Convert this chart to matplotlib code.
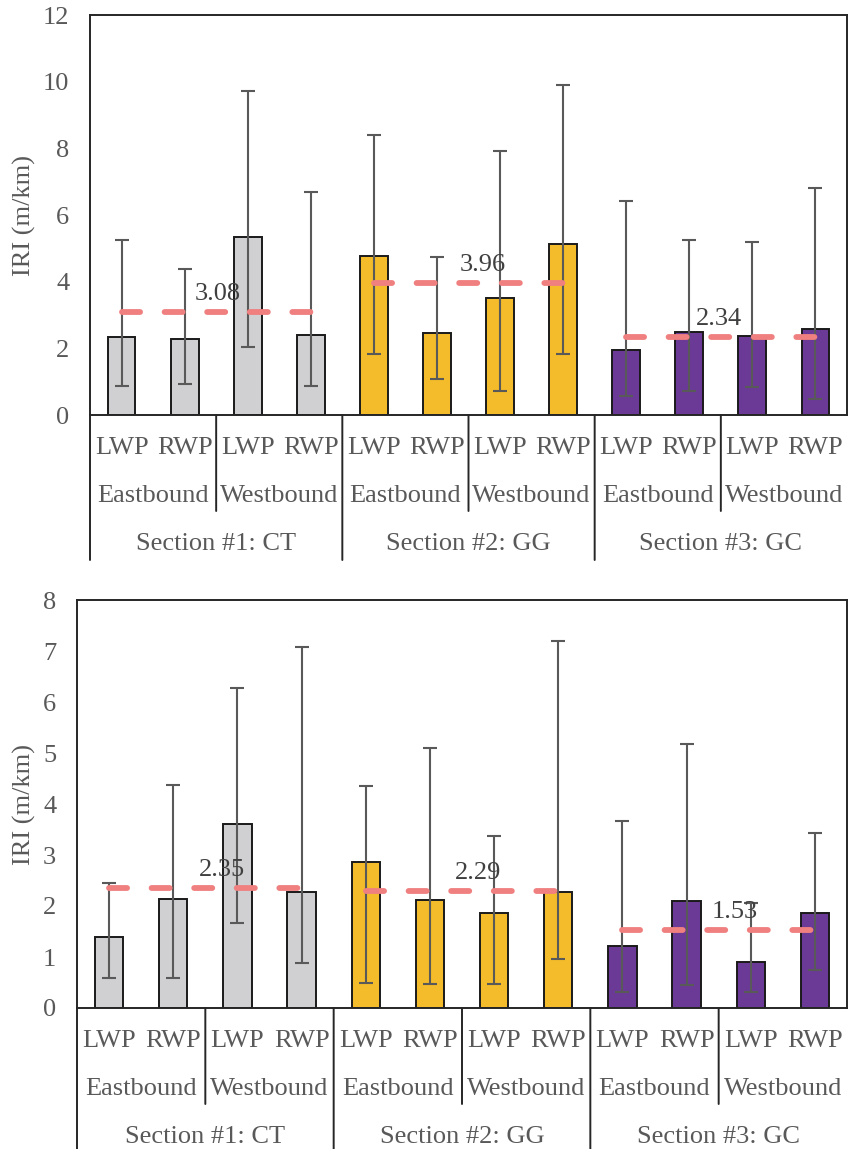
import numpy as np
import matplotlib
matplotlib.use("Agg")
import matplotlib.pyplot as plt
from matplotlib.transforms import ScaledTranslation

plt.rcParams['font.family'] = ['Liberation Serif', 'DejaVu Serif']

# categories
wheel_paths = ['LWP', 'RWP'] * 6
directions = ['Eastbound', 'Westbound'] * 3
sections = ['Section #1: CT', 'Section #2: GG', 'Section #3: GC']
section_colors = ['#D0D0D2', '#F4BC2A', '#6A3A96']

# top panel: mean IRI per wheel path, error bar limits and section means
top_vals = [2.34, 2.29, 5.34, 2.40, 4.78, 2.45, 3.50, 5.13, 1.94, 2.48, 2.38, 2.58]
top_hi = [5.24, 4.38, 9.73, 6.70, 8.41, 4.74, 7.93, 9.90, 6.43, 5.24, 5.19, 6.81]
top_lo = [0.88, 0.93, 2.04, 0.86, 1.83, 1.08, 0.71, 1.83, 0.56, 0.72, 0.85, 0.48]
top_means = [3.08, 3.96, 2.34]

# bottom panel
bot_vals = [1.39, 2.14, 3.60, 2.28, 2.87, 2.12, 1.86, 2.28, 1.22, 2.10, 0.91, 1.87]
bot_hi = [2.45, 4.38, 6.28, 7.08, 4.36, 5.09, 3.38, 7.19, 3.66, 5.18, 2.05, 3.43]
bot_lo = [0.58, 0.58, 1.67, 0.88, 0.50, 0.48, 0.48, 0.97, 0.32, 0.46, 0.32, 0.74]
bot_means = [2.35, 2.29, 1.53]

GRAY = '#595959'
FS = 19


def draw_panel(fig, ax, vals, lo, hi, means, ymax, ystep, label_dx, below_px):
    x = np.arange(len(vals))
    colors = [c for c in section_colors for _ in range(4)]
    vals = np.array(vals)
    yerr = [vals - np.array(lo), np.array(hi) - vals]
    ax.bar(x, vals, width=0.44, color=colors, edgecolor='#1a1a1a', linewidth=1.4, zorder=2)
    ax.errorbar(x, vals, yerr=yerr, fmt='none', ecolor=GRAY, elinewidth=1.5,
                capsize=5, capthick=1.5, zorder=3)

    for i, m in enumerate(means):
        xs = [4 * i, 4 * i + 3]
        ax.plot(xs, [m, m], color='#F08080', lw=4.2, linestyle=(0, (3.1, 4.2)),
                dash_capstyle='round', zorder=4)
        ax.annotate(f'{m:.2f}', (4 * i + 1.5 + label_dx[i], m), xytext=(0, 5),
                    textcoords='offset points', ha='center', va='bottom',
                    fontsize=FS, color='#404040', zorder=5)

    ax.set_xlim(-0.5, len(vals) - 0.5)
    ax.set_ylim(0, ymax)
    ax.set_yticks(np.arange(0, ymax + 0.01, ystep))
    ax.tick_params(axis='y', length=0, labelsize=FS, labelcolor=GRAY, pad=15)
    ax.set_xticks([])
    for s in ax.spines.values():
        s.set_color('#262626')
        s.set_linewidth(1.4)
    ax.set_ylabel('IRI (m/km)', fontsize=FS, color=GRAY, labelpad=5)

    def tr(dy_px):
        return ax.get_xaxis_transform() + ScaledTranslation(0, -dy_px / fig.dpi, fig.dpi_scale_trans)

    # category labels, three levels
    for i, t in enumerate(wheel_paths):
        ax.text(i, 0, t, transform=tr(33), ha='center', va='center', fontsize=FS, color=GRAY)
    for i, t in enumerate(directions):
        ax.text(2 * i + 0.5, 0, t, transform=tr(81), ha='center', va='center', fontsize=FS, color=GRAY)
    for i, t in enumerate(sections):
        ax.text(4 * i + 1.5, 0, t, transform=tr(129), ha='center', va='center', fontsize=FS, color=GRAY)

    # separator lines below the axis
    for xb in [1.5, 5.5, 9.5]:
        ax.annotate('', xy=(xb, 0), xycoords=tr(96), xytext=(xb, 0), textcoords=tr(0),
                    arrowprops=dict(arrowstyle='-', color='#262626', lw=1.4, shrinkA=0, shrinkB=0))
    for xb in [-0.5, 3.5, 7.5]:
        ax.annotate('', xy=(xb, 0), xycoords=tr(below_px), xytext=(xb, 0), textcoords=tr(0),
                    arrowprops=dict(arrowstyle='-', color='#262626', lw=1.4, shrinkA=0, shrinkB=0))


fig = plt.figure(figsize=(8.48, 11.49), dpi=100)
ax1 = fig.add_axes([90 / 848, 1 - 415 / 1149, 757 / 848, 400 / 1149])
ax2 = fig.add_axes([77 / 848, 1 - 1008 / 1149, 770 / 848, 408 / 1149])

draw_panel(fig, ax1, top_vals, top_lo, top_hi, top_means, 12, 2, [0.03, 0.23, -0.03], 145)
draw_panel(fig, ax2, bot_vals, bot_lo, bot_hi, bot_means, 8, 1, [0.26, 0.25, 0.25], 141)

fig.savefig('out.png', dpi=100)
